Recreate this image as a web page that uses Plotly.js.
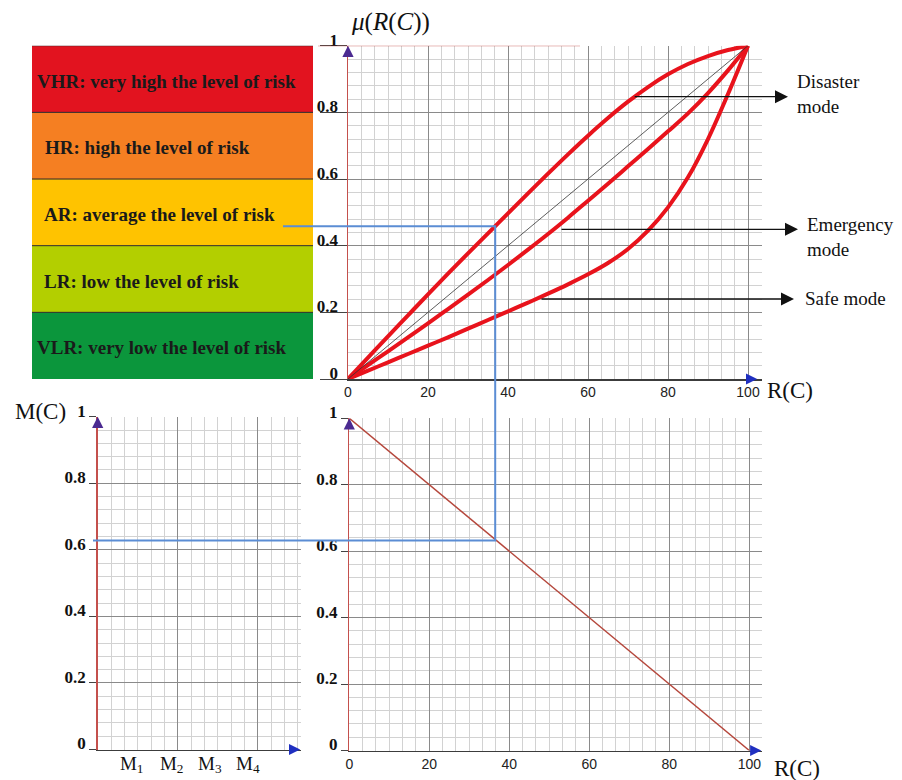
<!DOCTYPE html>
<html><head><meta charset="utf-8">
<script src="https://cdn.plot.ly/plotly-3.0.1.min.js"></script>
<style>html,body{margin:0;padding:0;background:#fff}#chart{width:902px;height:780px}</style>
</head><body><div id="chart"></div>
<script>
// ---------- data ----------
const curveR = [0, 5, 10, 15, 20, 25, 30, 35, 40, 45, 50, 55, 60, 65, 70, 75, 80, 85, 90, 95, 100];
const disasterMu = [0, 0.064, 0.128, 0.191, 0.254, 0.316, 0.377, 0.437, 0.497, 0.557, 0.616, 0.674, 0.730, 0.783, 0.832, 0.876, 0.914, 0.945, 0.969, 0.987, 1];
const emergencyMu = [0, 0.042, 0.083, 0.125, 0.167, 0.21, 0.253, 0.297, 0.342, 0.388, 0.435, 0.484, 0.535, 0.586, 0.638, 0.69, 0.743, 0.797, 0.858, 0.926, 1];
const safeMu = [0, 0.025, 0.05, 0.075, 0.1, 0.125, 0.151, 0.177, 0.203, 0.229, 0.256, 0.284, 0.314, 0.348, 0.39, 0.445, 0.515, 0.605, 0.72, 0.855, 1];
const diagonalR = [0, 100];
const diagonalMu = [0, 1];
const mcR = [0, 100];
const mcValues = [1, 0];
const selectedR = 36.8;
const riskLabels = ['VLR: very low the level of risk', 'LR: low the level of risk', 'AR: average the level of risk', 'HR: high the level of risk', 'VHR: very high the level of risk'];
const riskBounds = [0, 0.2, 0.4, 0.6, 0.8, 1];
const riskColors = ['#0b963c', '#b3cf00', '#ffc300', '#f57f22', '#e2131f'];
const rTicks = [0, 20, 40, 60, 80, 100];
const muTicks = [0, 0.2, 0.4, 0.6, 0.8, 1];
const mTickVals = [8.5, 18.5, 28, 37.5];
const mTickText = ['M<sub>1</sub>', 'M<sub>2</sub>', 'M<sub>3</sub>', 'M<sub>4</sub>'];
const modeLabels = ['Disaster<br>mode', 'Emergency<br>mode', 'Safe mode'];
const modeStartR = [71.3, 53, 48];
const modeStartMu = [0.847, 0.449, 0.24];
const modeTipR = [110, 112.5, 111.5];

// ---------- layout geometry ----------
const W = 902, H = 780;
const px = v => v / W, py = v => 1 - v / H;
const domTopX = [px(348), px(762)], domTopY = [py(379), py(45.7)], rngTopX = [0, 103.5];
const domBRX = [px(349.3), px(761.7)], domBRY = [py(750.5), py(418.3)], rngBRX = [0, 103.1];
const domBLX = [px(97.7), px(301)], domBLY = [py(749.5), py(416.7)], rngBLX = [0, 50.8];
const toPaper = (v, dom, rng) => dom[0] + (v - rng[0]) / (rng[1] - rng[0]) * (dom[1] - dom[0]);

function interp(xs, ys, x) {
  for (let i = 1; i < xs.length; i++) {
    if (x <= xs[i]) { const t = (x - xs[i-1]) / (xs[i] - xs[i-1]); return ys[i-1] + t * (ys[i] - ys[i-1]); }
  }
  return ys[ys.length - 1];
}
const selectedMu = interp(curveR, disasterMu, selectedR);
const selectedM = interp(mcR, mcValues, selectedR);

const SERIF = 'Liberation Serif, Times New Roman, serif';
const SANS = 'Liberation Sans, Arial, sans-serif';

function xAx(domain, range, anchor, extra) {
  return Object.assign({
    domain, range, anchor, tick0: 0, dtick: 20,
    showgrid: true, gridcolor: '#8a8a8a', gridwidth: 1,
    minor: {tick0: 0, dtick: 10 / 3, showgrid: true, gridcolor: '#d2d2d2', gridwidth: 1},
    showline: true, linecolor: '#3c3c3c', linewidth: 1.5, zeroline: false,
    ticks: '', tickvals: rTicks,
    tickfont: {family: SANS, size: 14, color: '#222'},
    fixedrange: true, automargin: false
  }, extra || {});
}
function yAx(domain, anchor, extra) {
  return Object.assign({
    domain, range: [0, 1], anchor, tick0: 0, dtick: 0.2, tickvals: muTicks,
    showgrid: true, gridcolor: '#8a8a8a', gridwidth: 1,
    minor: {tick0: 0, dtick: 0.04, showgrid: true, gridcolor: '#d2d2d2', gridwidth: 1},
    showline: true, linecolor: '#c4504c', linewidth: 1.5, zeroline: false,
    ticks: 'outside', ticklen: 7, tickcolor: '#444', tickwidth: 1,
    ticklabelshift: -6,
    tickfont: {family: SERIF, size: 17, weight: 'bold', color: '#111'},
    fixedrange: true, automargin: false
  }, extra || {});
}

const red = '#e8131c';
const curveLine = {color: red, width: 4, shape: 'spline', smoothing: 1};
const traces = [
  {x: curveR, y: disasterMu, mode: 'lines', line: curveLine, xaxis: 'x', yaxis: 'y'},
  {x: curveR, y: emergencyMu, mode: 'lines', line: curveLine, xaxis: 'x', yaxis: 'y'},
  {x: curveR, y: safeMu, mode: 'lines', line: curveLine, xaxis: 'x', yaxis: 'y'},
  {x: diagonalR, y: diagonalMu, mode: 'lines', line: {color: '#333', width: 0.8}, xaxis: 'x', yaxis: 'y'},
  {x: mcR, y: mcValues, mode: 'lines', line: {color: '#b5473c', width: 1.5}, xaxis: 'x3', yaxis: 'y3'},
  {x: [], y: [], mode: 'lines', xaxis: 'x2', yaxis: 'y2'},
  {x: [], y: [], mode: 'lines', xaxis: 'x4', yaxis: 'y2'}
];

const shapes = [];
// risk-level table bands aligned with the mu axis
for (let i = 0; i < riskLabels.length; i++) {
  shapes.push({type: 'rect', xref: 'paper', yref: 'y', x0: px(32), x1: px(313), y0: riskBounds[i], y1: riskBounds[i+1],
    fillcolor: riskColors[i], line: {width: 0}, layer: 'below'});
}
for (let i = 1; i < riskBounds.length; i++) {
  shapes.push({type: 'line', xref: 'paper', yref: 'y', x0: px(32), x1: px(313), y0: riskBounds[i], y1: riskBounds[i],
    line: {color: '#2a2a2a', width: 1}});
}
// red top border of upper plot
shapes.push({type: 'line', xref: 'paper', yref: 'y', x0: px(318), x1: px(580), y0: 1, y1: 1, line: {color: '#c4504c', width: 1}});
// blue projection line
const bx1 = px(283), bx2 = toPaper(selectedR, domTopX, rngTopX), bx4 = px(93);
const by1 = toPaper(selectedMu, domTopY, [0, 1]), by3 = toPaper(selectedM, domBRY, [0, 1]);
shapes.push({type: 'path', xref: 'paper', yref: 'paper',
  path: `M${bx1},${by1} L${bx2},${by1} L${bx2},${by3} L${bx4},${by3}`,
  line: {color: '#5b8dd4', width: 2}, layer: 'above'});

const annotations = [];
const labelX = [35, 42, 42, 43, 35];
riskLabels.forEach((t, i) => annotations.push({
  xref: 'paper', yref: 'y', x: px(labelX[i]), y: (riskBounds[i] + riskBounds[i+1]) / 2, yshift: -2,
  xanchor: 'left', yanchor: 'middle', showarrow: false, text: t,
  font: {family: SERIF, size: 19, weight: 'bold', color: '#1a1a1a'}
}));
// mode arrows
modeLabels.forEach((t, i) => annotations.push({
  xref: 'x', yref: 'y', x: modeTipR[i], y: modeStartMu[i], axref: 'x', ayref: 'y', ax: modeStartR[i], ay: modeStartMu[i],
  showarrow: true, arrowhead: 2, arrowsize: 2, arrowwidth: 1.3, arrowcolor: '#111', text: ''
}));
const modeTextX = [795, 805, 803], modeTextY = [93.5, 236.5, 298];
modeLabels.forEach((t, i) => annotations.push({
  xref: 'paper', yref: 'paper', x: px(modeTextX[i]), y: py(modeTextY[i]), xanchor: 'left', yanchor: 'middle', align: 'left',
  showarrow: false, text: t, font: {family: SERIF, size: 19, color: '#111'}
}));
// axis titles
const titleFont = {family: SERIF, size: 23, color: '#111'};
[['<i>μ</i>(<i>R</i>(<i>C</i>))', 390, 22, 25], ['R(C)', 790, 390, 23], ['M(C)', 40, 411, 23], ['R(C)', 797, 768, 23]]
  .forEach(([t, x, y, s]) => annotations.push({xref: 'paper', yref: 'paper', x: px(x), y: py(y),
    xanchor: 'center', yanchor: 'middle', showarrow: false, text: t, font: Object.assign({}, titleFont, {size: s})}));
// axis arrowheads
[['x', 'y', 102.3], ['x2', 'y2', 50.6], ['x3', 'y3', 103]].forEach(([xr, yr, tip]) => {
  annotations.push({xref: xr, yref: yr, x: 0, y: 1, axref: 'pixel', ayref: 'pixel', ax: 0, ay: 6,
    showarrow: true, arrowhead: 2, arrowsize: 1.4, arrowwidth: 1.6, arrowcolor: '#4b2a91', text: ''});
  annotations.push({xref: xr, yref: yr, x: tip, y: 0, axref: 'pixel', ayref: 'pixel', ax: -6, ay: 0,
    showarrow: true, arrowhead: 2, arrowsize: 1.4, arrowwidth: 1.6, arrowcolor: '#1f2fc0', text: ''});
});

const layout = {
  width: W, height: H, margin: {l: 0, r: 0, t: 0, b: 0},
  paper_bgcolor: '#fff', plot_bgcolor: '#fff', showlegend: false,
  xaxis: xAx(domTopX, rngTopX, 'y'),
  yaxis: yAx(domTopY, 'x', {ticklen: 27, ticklabelstandoff: -22}),
  xaxis2: xAx(domBLX, rngBLX, 'y2', {showticklabels: false}),
  xaxis4: {domain: domBLX, range: rngBLX, anchor: 'y2', overlaying: 'x2', side: 'bottom',
    showgrid: false, zeroline: false, showline: false, ticks: '',
    tickvals: mTickVals, ticktext: mTickText, tickfont: {family: SERIF, size: 19, color: '#111'},
    fixedrange: true, automargin: false},
  yaxis2: yAx(domBLY, 'x2'),
  xaxis3: xAx(domBRX, rngBRX, 'y3'),
  yaxis3: yAx(domBRY, 'x3'),
  shapes, annotations
};
Plotly.newPlot('chart', traces, layout, {displayModeBar: false, staticPlot: true});
</script></body></html>
